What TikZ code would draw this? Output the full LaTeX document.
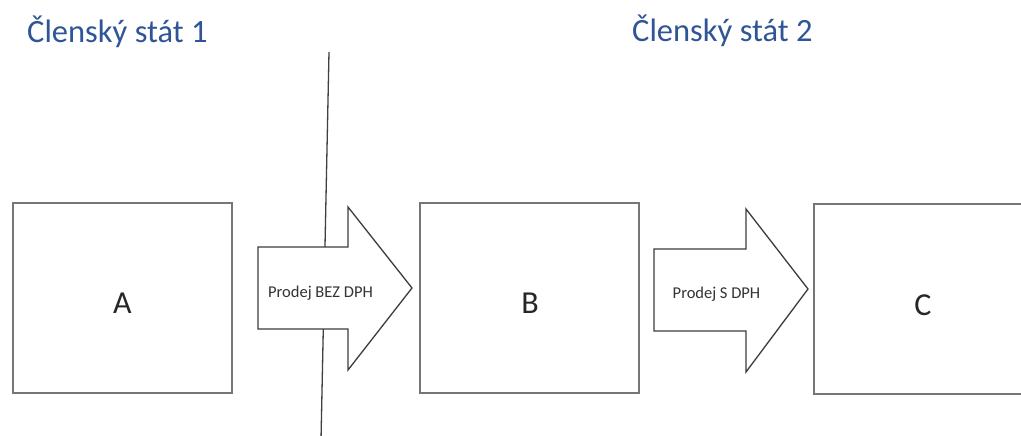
\documentclass[tikz,border=0pt]{standalone}
\usepackage{fontspec}
\setmainfont{Carlito}
\definecolor{titleblue}{HTML}{2F5597}
\definecolor{boxline}{HTML}{767676}
\definecolor{arrowline}{HTML}{3C3C3C}
\begin{document}
\begin{tikzpicture}[x=1pt,y=-1pt,
  party/.style={draw=boxline, line width=1.8pt, fill=white, inner sep=0pt,
    font=\fontsize{32}{36}\selectfont, text=black!85},
  partylabel/.style={font=\fontsize{32}{36}\selectfont, text=black!85, inner sep=0pt},
  flow/.style={draw=arrowline, line width=1.3pt, fill=white, line join=miter},
  flowtext/.style={font=\fontsize{16.5}{18}\selectfont, text=black!80, inner sep=0pt},
  statetitle/.style={font=\fontsize{32.5}{36}\selectfont, text=titleblue, inner sep=0pt, anchor=base west},
  border/.style={draw=black!75, line width=1.3pt}]
\clip (0,0) rectangle (1021,436);
\fill[white] (0,0) rectangle (1021,436);

% state titles
\node[statetitle] (s1) at (27,43) {Členský stát 1};
\node[statetitle] (s2) at (632,42) {Členský stát 2};

% state border
\coordinate (bt) at (329,52);
\coordinate (bb) at (321,440);
\draw[border] (bt) -- (bb);

% trading parties
\node[party, minimum width=219pt, minimum height=190pt] (A) at (122.5,298) {};
\node[party, minimum width=219pt, minimum height=190pt] (B) at (529.5,298) {};
\node[party, minimum width=221pt, minimum height=190pt] (C) at (924.5,299) {};
\node[partylabel] (la) at (122.5,303.5) {A};
\node[partylabel] (lb) at (530,303.5) {B};
\node[partylabel] (lc) at (923,305) {C};

% supply arrows
\draw[flow] (258,247) -- (348,247) -- (348,207) -- (412,288) -- (348,370)
  -- (348,329) -- (258,329) -- cycle;
\node[flowtext] (f1) at (320.5,293) {Prodej BEZ DPH};

\draw[flow] (654,249) -- (746,249) -- (746,209) -- (808,289) -- (746,372)
  -- (746,331) -- (654,331) -- cycle;
\node[flowtext] (f2) at (716.5,294) {Prodej S DPH};
\end{tikzpicture}
\end{document}
